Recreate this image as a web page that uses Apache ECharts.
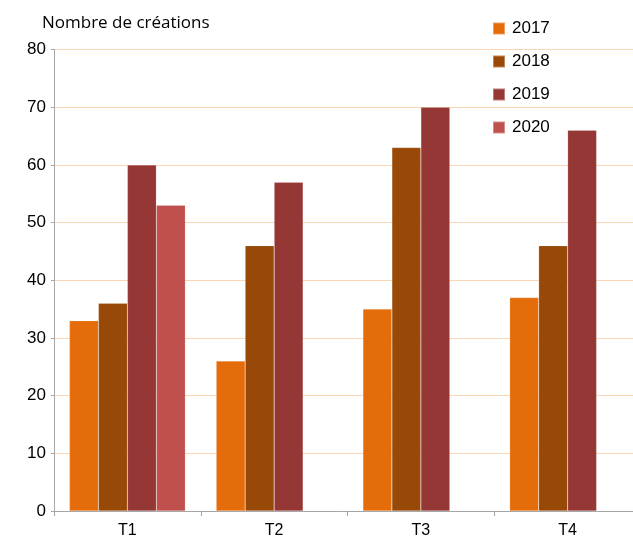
<!DOCTYPE html>
<html><head><meta charset="utf-8">
<script src="https://cdn.jsdelivr.net/npm/echarts@6/dist/echarts.min.js"></script>
<style>html,body{margin:0;padding:0;background:#fff}#c{width:633px;height:536px}</style>
</head><body><div id="c"></div>
<script>
const categories = ['T1','T2','T3','T4'];
const seriesNames = ['2017','2018','2019','2020'];
const v2017 = [33, 26, 35, 37];
const v2018 = [36, 46, 63, 46];
const v2019 = [60, 57, 70, 66];
const v2020 = [53, null, null, null];
const colors = ['#E46C0A','#984807','#953735','#C0504D'];
const values = [v2017, v2018, v2019, v2020];
const font = 'Liberation Sans, Arial, sans-serif';
const chart = echarts.init(document.getElementById('c'));
chart.setOption({
  animation:false,
  grid:{left:54, right:-8, top:49.5, bottom:25, outerBoundsMode:'none', containLabel:false},
  title:{text:'Nombre de créations', left:37, top:10, textStyle:{fontFamily:'Open Sans, sans-serif', fontSize:17, fontWeight:'normal', color:'#000'}},
  legend:{orient:'vertical', left:487, top:15, itemWidth:12, itemHeight:12, itemGap:16, icon:'rect',
    textStyle:{fontFamily:font, fontSize:17, color:'#000', padding:[0,0,0,2]}, data:seriesNames},
  xAxis:{type:'category', data:categories,
    axisLine:{lineStyle:{color:'#a6a6a6'}},
    axisTick:{show:true, length:5, inside:false, lineStyle:{color:'#a6a6a6'}},
    axisLabel:{fontFamily:font, fontSize:16, color:'#000', margin:12}},
  yAxis:{type:'value', min:0, max:80, interval:10,
    axisLine:{show:true, lineStyle:{color:'#a6a6a6'}},
    axisTick:{show:true, length:3, lineStyle:{color:'#a6a6a6'}},
    splitLine:{lineStyle:{color:'#FCD5B5', width:1}},
    axisLabel:{fontFamily:font, fontSize:17, color:'#000', margin:8}},
  series: seriesNames.map((n,i)=>({name:n, type:'bar', data:values[i], barGap:'0%', barCategoryGap:'21%',
    itemStyle:{color:colors[i], borderColor:'rgba(255,255,255,0.35)', borderWidth:0.5}}))
});
</script></body></html>
